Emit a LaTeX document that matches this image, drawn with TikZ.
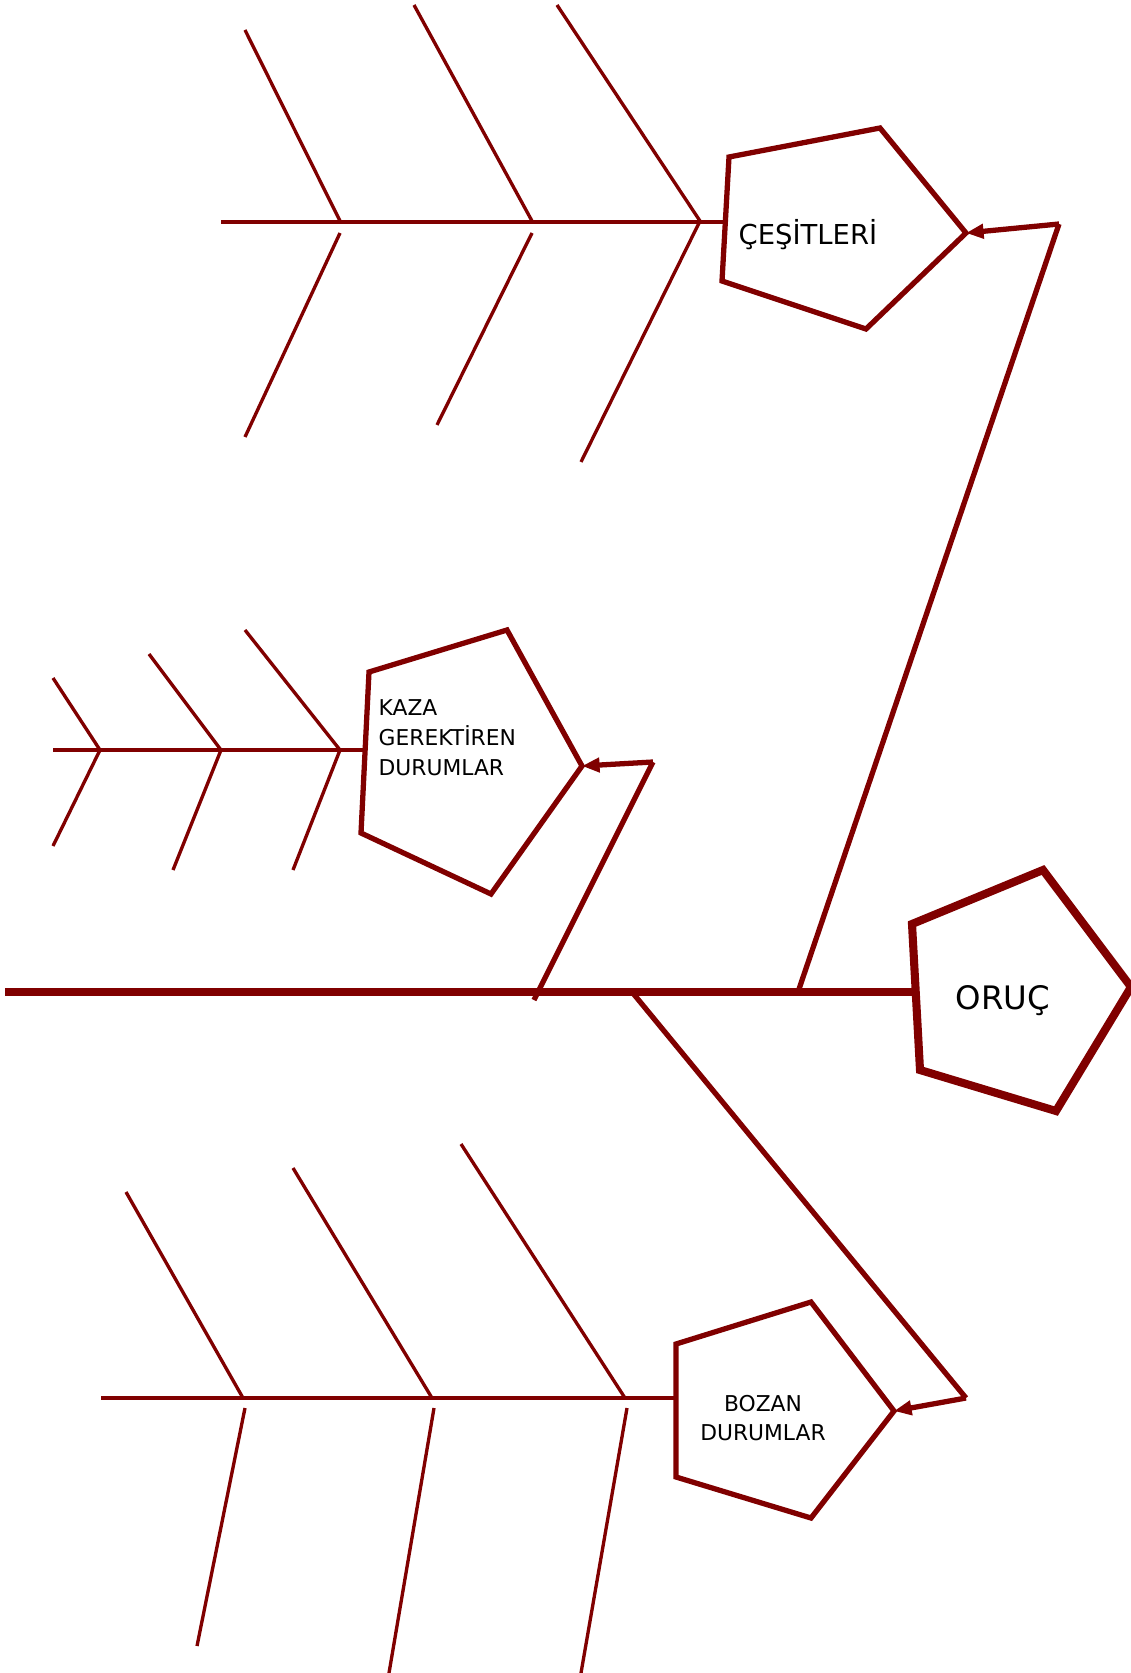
\documentclass[tikz,border=0pt]{standalone}
\usepackage{fontspec}
\setmainfont{DejaVu Sans}
\usetikzlibrary{arrows.meta}
\definecolor{bone-red}{HTML}{800000}

\begin{document}
\begin{tikzpicture}[
    x=0.01cm, y=-0.01cm,
    >={Triangle[length=5pt, width=4pt]},
    spine/.style={draw=bone-red, line width=2pt},
    bone/.style={draw=bone-red, line width=1.35pt},
    rib/.style={draw=bone-red, line width=0.95pt},
    link/.style={draw=bone-red, line width=1.5pt},
    head/.style={draw=bone-red, line width=1.5pt, line join=miter},
    label/.style={font=\fontsize{6.2}{8.5}\selectfont, inner sep=0pt}
]
\useasboundingbox (0,0) rectangle (1131,1673);

% main spine and head
\coordinate (tail) at (5,992);
\coordinate (oruc-w) at (914,992);
\draw[head, line width=2.3pt] (912,924) -- (1043,870) -- (1131,987) coordinate (oruc-tip) -- (1056,1111) -- (920,1070) -- cycle;
\node[font=\fontsize{9.2}{11}\selectfont] (oruc) at (1003,1001) {ORUÇ};
\draw[spine] (tail) -- (oruc-w);

% upper bone
\draw[head] (729,157) -- (880,128) -- (966,233) coordinate (cesit-tip) -- (866,329) -- (722,281) -- cycle;
\node[label, font=\fontsize{7.8}{9}\selectfont, anchor=west] (cesit) at (738,235) {ÇEŞİTLERİ};
\coordinate (cesit-w) at (726,222);
\draw[bone] (221,222) -- (cesit-w);
\foreach \x/\tx/\ty/\bx/\by in {340/245/30/245/437, 532/414/5/437/425, 700/557/5/581/462} {
    \draw[rib] (\tx,\ty) -- (\x,221);
    \draw[rib] (\x,{\x==700 ? 221 : 233}) -- (\bx,\by);
}
\coordinate (upper-root) at (798,992);
\coordinate (upper-bend) at (1059,224);
\draw[link] (upper-root) -- (upper-bend);
\draw[link, ->] (upper-bend) -- (cesit-tip);

% middle bone
\draw[head] (369,672) -- (507,630) -- (582,766) coordinate (kaza-tip) -- (491,894) -- (361,833) -- cycle;
\node[label, align=left, anchor=north west] (kaza) at (378,699) {KAZA\\GEREKTİREN\\DURUMLAR};
\coordinate (kaza-w) at (366,750);
\draw[bone] (53,750) -- (kaza-w);
\foreach \x/\tx/\ty/\bx/\by in {100/53/678/53/846, 221/149/654/173/870, 340/245/630/293/870} {
    \draw[rib] (\tx,\ty) -- (\x,750) -- (\bx,\by);
}
\coordinate (middle-root) at (534,1000);
\coordinate (middle-bend) at (653,762);
\draw[link] (middle-root) -- (middle-bend);
\draw[link, ->] (middle-bend) -- (kaza-tip);

% lower bone
\draw[head] (676,1344) -- (811,1302) -- (894,1411) coordinate (bozan-tip) -- (811,1518) -- (676,1477) -- cycle;
\node[label, align=center] (bozan) at (763,1418) {BOZAN\\DURUMLAR};
\coordinate (bozan-w) at (677,1398);
\draw[bone] (101,1398) -- (bozan-w);
\foreach \x/\tx/\ty/\bx/\by in {243/126/1192/197/1646, 432/293/1168/389/1673, 625/461/1144/581/1673} {
    \draw[rib] (\tx,\ty) -- (\x,1398);
    \draw[rib] (\x+2,1408) -- (\bx,\by);
}
\coordinate (lower-root) at (632,992);
\coordinate (lower-bend) at (966,1398);
\draw[link] (lower-root) -- (lower-bend);
\draw[link, ->] (lower-bend) -- (bozan-tip);
\end{tikzpicture}
\end{document}
